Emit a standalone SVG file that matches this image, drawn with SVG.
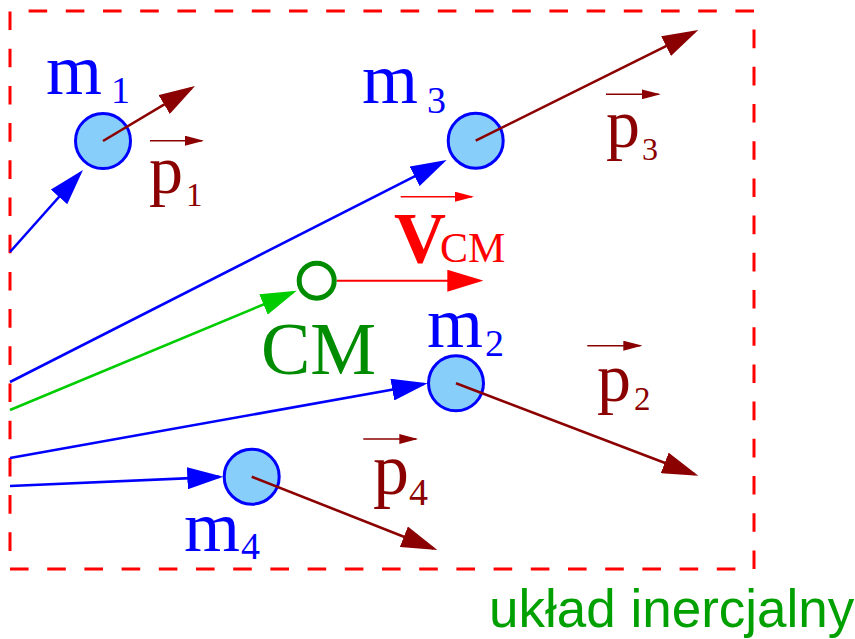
<svg xmlns="http://www.w3.org/2000/svg" width="855" height="639" viewBox="0 0 855 639">
<style>
.frame{stroke:#ff0000;stroke-width:3;fill:none;stroke-dasharray:18.6 18.6}
.gap{stroke-dashoffset:18.6}
.mass{fill:#87cefa;stroke:#0000ff;stroke-width:3}
.blue{stroke:#0000ff;stroke-width:2.6;fill:none}
.green{stroke:#00cc00;stroke-width:2.6;fill:none}
.mom{stroke:#8b0000;stroke-width:2.6;fill:none}
.vel{stroke:#ff0000;stroke-width:2;fill:none}
.small{stroke-width:1.6}
.serif{font-family:"Liberation Serif","Times New Roman",serif}
.mlab{fill:#0000ff}
.plab{fill:#8b0000}
</style>
<defs>
<marker id="ahBlue" markerUnits="userSpaceOnUse" markerWidth="36" markerHeight="22" refX="32" refY="11" orient="auto"><path d="M0,0 L36,11 L0,22 z" fill="#0000ff"/></marker>
<marker id="ahGreen" markerUnits="userSpaceOnUse" markerWidth="36" markerHeight="22" refX="32" refY="11" orient="auto"><path d="M0,0 L36,11 L0,22 z" fill="#00cc00"/></marker>
<marker id="ahMom" markerUnits="userSpaceOnUse" markerWidth="36" markerHeight="22" refX="32" refY="11" orient="auto"><path d="M0,0 L36,11 L0,22 z" fill="#8b0000"/></marker>
<marker id="ahRed" markerUnits="userSpaceOnUse" markerWidth="36" markerHeight="22" refX="32" refY="11" orient="auto"><path d="M0,0 L36,11 L0,22 z" fill="#ff0000"/></marker>
<marker id="sMom" markerUnits="userSpaceOnUse" markerWidth="19" markerHeight="10" refX="17" refY="5" orient="auto"><path d="M0,0 L19,5 L0,10 z" fill="#8b0000"/></marker>
<marker id="sRed" markerUnits="userSpaceOnUse" markerWidth="19" markerHeight="10" refX="17" refY="5" orient="auto"><path d="M0,0 L19,5 L0,10 z" fill="#ff0000"/></marker>
</defs>

<g id="frame">
<line class="frame" x1="10" y1="11.5" x2="10" y2="569"/>
<line class="frame gap" x1="10" y1="11" x2="754" y2="11"/>
<line class="frame" x1="754" y1="569" x2="754" y2="11"/>
<line class="frame gap" x1="754" y1="569" x2="10" y2="569"/>
</g>

<g id="connectors">
<line class="blue" x1="10" y1="252" x2="80.3" y2="173" marker-end="url(#ahBlue)"/>
<line class="blue" x1="10" y1="382" x2="443.1" y2="161.8" marker-end="url(#ahBlue)"/>
<line class="green" x1="10" y1="410" x2="293" y2="292.2" marker-end="url(#ahGreen)"/>
<line class="blue" x1="10" y1="458" x2="423.8" y2="384" marker-end="url(#ahBlue)"/>
<line class="blue" x1="10" y1="486" x2="219.3" y2="476.9" marker-end="url(#ahBlue)"/>
<line class="vel" x1="336.7" y1="280.7" x2="479.3" y2="280.7" marker-end="url(#ahRed)"/>
</g>

<g id="m1">
<circle class="mass" cx="103" cy="141" r="27.5"/>
<line class="mom" x1="103" y1="141" x2="191.6" y2="88.1" marker-end="url(#ahMom)"/>
<text class="serif mlab" x="46" y="94" font-size="72">m</text>
<text class="serif mlab" x="111" y="103" font-size="38">1</text>
</g>
<g id="p1">
<line class="mom small" x1="150" y1="140.7" x2="202" y2="140.7" marker-end="url(#sMom)"/>
<text class="serif plab" x="149" y="193" font-size="68">p</text>
<text class="serif plab" x="186" y="206" font-size="33">1</text>
</g>

<g id="m3">
<circle class="mass" cx="475.7" cy="140.7" r="27.5"/>
<line class="mom" x1="475.7" y1="140.7" x2="694.7" y2="31.8" marker-end="url(#ahMom)"/>
<text class="serif mlab" x="362" y="103.3" font-size="72">m</text>
<text class="serif mlab" x="427" y="112.7" font-size="38">3</text>
</g>
<g id="p3">
<line class="mom small" x1="606" y1="94.3" x2="658.7" y2="94.3" marker-end="url(#sMom)"/>
<text class="serif plab" x="606" y="147" font-size="68">p</text>
<text class="serif plab" x="642" y="160" font-size="32">3</text>
</g>

<g id="cm">
<circle cx="316.7" cy="280.7" r="17.5" fill="#ffffff" stroke="#008c00" stroke-width="5"/>
<text class="serif" x="261" y="374" font-size="74" fill="#008c00">CM</text>
</g>
<g id="vcm">
<line class="vel small" x1="400.7" y1="196.7" x2="472" y2="196.7" marker-end="url(#sRed)"/>
<text class="serif" x="394" y="261.7" fill="#ff0000"><tspan font-size="72" font-weight="bold">V</tspan><tspan font-size="42" dx="-6">CM</tspan></text>
</g>

<g id="m2">
<circle class="mass" cx="456" cy="383.3" r="27.5"/>
<line class="mom" x1="456" y1="383.3" x2="694.6" y2="474.3" marker-end="url(#ahMom)"/>
<text class="serif mlab" x="427" y="346.7" font-size="72">m</text>
<text class="serif mlab" x="485" y="356" font-size="38">2</text>
</g>
<g id="p2">
<line class="mom small" x1="587.3" y1="345.7" x2="640.3" y2="345.7" marker-end="url(#sMom)"/>
<text class="serif plab" x="597" y="401" font-size="68">p</text>
<text class="serif plab" x="634" y="410" font-size="33">2</text>
</g>

<g id="m4">
<circle class="mass" cx="251.7" cy="476.7" r="27.5"/>
<line class="mom" x1="251.7" y1="476.7" x2="433.6" y2="548.5" marker-end="url(#ahMom)"/>
<text class="serif mlab" x="184" y="551" font-size="72">m</text>
<text class="serif mlab" x="241" y="559.3" font-size="38">4</text>
</g>
<g id="p4">
<line class="mom small" x1="363.3" y1="439" x2="416.3" y2="439" marker-end="url(#sMom)"/>
<text class="serif plab" x="373" y="494" font-size="72">p</text>
<text class="serif plab" x="409" y="505" font-size="38">4</text>
</g>

<g id="label">
<text x="489" y="627" font-family="'Liberation Sans', Arial, sans-serif" font-size="53" fill="#00a000">układ inercjalny</text>
</g>
</svg>
